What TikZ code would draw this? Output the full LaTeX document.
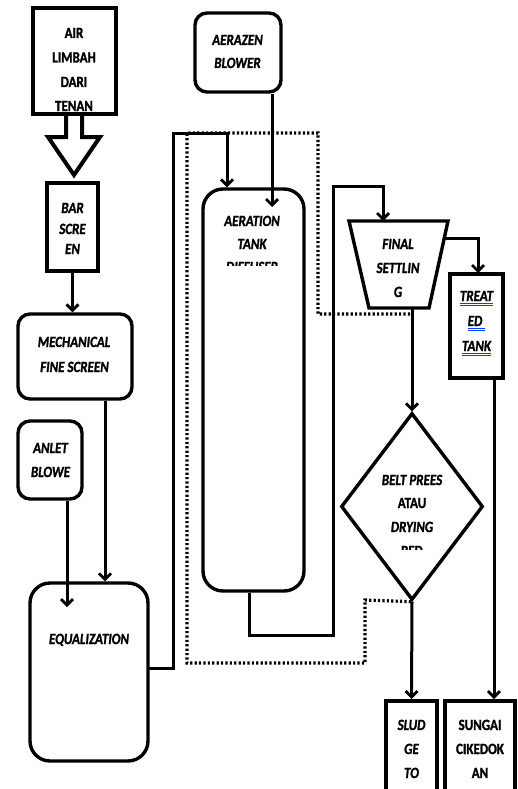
\documentclass[tikz,border=0pt]{standalone}
\usepackage{fontspec}
\setmainfont[BoldFeatures={FakeBold=1.6},BoldItalicFeatures={FakeBold=1.6}]{Carlito}
\usetikzlibrary{arrows.meta,shapes.geometric}
\newcommand\sx[1]{\scalebox{1}[1.2]{#1}}
\begin{document}
\begin{tikzpicture}[x=1pt,y=-1pt,
  sqbox/.style={draw, line width=4pt, inner sep=0pt},
  rbox/.style={draw, line width=3.4pt, rounded corners=12pt, inner sep=0pt},
  conn/.style={line width=3pt, -{Straight Barb[length=6pt,width=12pt,line width=2.8pt]}},
  dots/.style={line width=3.2pt, dash pattern=on 2.2pt off 2.2pt},
  lbl/.style={font=\fontsize{13}{15}\selectfont\bfseries, inner sep=0pt, anchor=base},
  ilbl/.style={font=\fontsize{13}{15}\selectfont\bfseries\itshape, inner sep=0pt, anchor=base},
  ul/.style={blue!75!cyan, line width=0.9pt}]
\useasboundingbox[fill=white] (0,0) rectangle (517,789);

% boxes
\node[sqbox, minimum width=83pt, minimum height=106pt] (air) at (74.5,61) {};
\node[sqbox, minimum width=51pt, minimum height=88pt] (bar) at (72.5,227) {};
\node[rbox, minimum width=114pt, minimum height=85pt] (mech) at (75,356.5) {};
\node[rbox, minimum width=64pt, minimum height=78pt] (anlet) at (50,460) {};
\node[rbox, rounded corners=20pt, minimum width=118pt, minimum height=178pt] (eq) at (89,672) {};
\node[rbox, minimum width=86pt, minimum height=79pt] (aerazen) at (238,52.5) {};
\node[rbox, rounded corners=20pt, minimum width=101pt, minimum height=402pt] (aer) at (253.5,390) {};
\node[sqbox, minimum width=53pt, minimum height=104pt] (tr) at (476.5,326) {};
\node[draw, diamond, line width=3.4pt, minimum width=142pt, minimum height=187pt, inner sep=0pt] (dia) at (412,506.5) {};
\node[sqbox, minimum width=51pt, minimum height=100pt] (sl) at (411.5,751) {};
\node[sqbox, minimum width=70pt, minimum height=100pt] (su) at (480,751) {};

% final settling trapezoid
\coordinate (fsTL) at (349,221);
\coordinate (fsTR) at (448,221);
\coordinate (fsBR) at (429,308);
\coordinate (fsBL) at (369,308);
\draw[line width=3.4pt, line join=miter] (fsTL) -- (fsTR) -- (fsBR) -- (fsBL) -- cycle;

% block arrow
\draw[line width=4pt, line join=miter] (66,114) -- (66,137) -- (48,137) -- (74,175) -- (100,137) -- (82,137) -- (82,114);

% named points
\coordinate (eqout) at (149,668);
\coordinate (c1) at (173,133);
\coordinate (anin) at (67,607);
\coordinate (azin) at (272,207);
\coordinate (fsr) at (445,238);
\coordinate (fsin) at (383,221);
\coordinate (fsout) at (412,308);

% connectors
\draw[conn] (bar.south) -- (bar.south |- mech.north);
\draw[conn] ([xshift=30pt]mech.south) -- ([xshift=16pt]eq.north);
\draw[conn] ([xshift=17pt]anlet.south) -- (anin);
\draw[conn] (eqout) -| (c1) -| ([xshift=-26.5pt]aer.north);
\draw[conn] ([xshift=34pt]aerazen.south) -- (azin);
\draw[conn] ([xshift=-4.5pt]aer.south) -- (249,635) -- (333,635) -- (333,186) -- (383,186) -- (fsin);
\draw[conn] (fsr) -- (478,238) -- (478,273);
\draw[conn] ([xshift=17.5pt]tr.south) -- ([xshift=14pt]su.north);
\draw[conn] (fsout) -- (dia.north);
\draw[conn] (dia.south) -- (sl.north);

% dotted outline
\draw[dots] (410,314) -- (318,314) -- (318,133) -- (187,133) -- (187,663) -- (365,663) -- (365,600) -- (dia.south);

% texts
\node[lbl] (t1) at (74,38) {\sx{AIR}};
\node[lbl] (t2) at (74,62.5) {\sx{LIMBAH}};
\node[lbl] (t3) at (74,87) {\sx{DARI}};
\node[lbl] (t4) at (74,111) {\sx{TENAN}};

\node[ilbl] (t5) at (72.5,213) {\sx{BAR}};
\node[ilbl] (t6) at (72.5,234) {\sx{SCRE}};
\node[ilbl] (t7) at (72.5,254) {\sx{EN}};

\node[ilbl] (t8) at (74,347) {\sx{MECHANICAL}};
\node[ilbl] (t9) at (74.5,372) {\sx{FINE SCREEN}};

\node[ilbl] (t10) at (50.5,453) {\sx{ANLET}};
\node[ilbl] (t11) at (50.5,477) {\sx{BLOWE}};

\node[ilbl] (t12) at (89,644) {\sx{EQUALIZATION}};

\node[ilbl] (t13) at (237.5,45) {\sx{AERAZEN}};
\node[ilbl] (t14) at (237.5,68) {\sx{BLOWER}};

\node[ilbl] (t15) at (252,226) {\sx{AERATION}};
\node[ilbl] (t16) at (252,249) {\sx{TANK}};
\begin{scope}
\clip (205,200) rectangle (300,265);
\node[ilbl] (t17) at (252,272) {\sx{DIFFUSER}};
\end{scope}

\node[ilbl] (t18) at (398,249) {\sx{FINAL}};
\node[ilbl] (t19) at (398,273) {\sx{SETTLIN}};
\node[ilbl] (t20) at (398,297) {\sx{G}};

\node[ilbl] (t21) at (476.5,301) {\sx{TREAT}};
\node[ilbl] (t22) at (476.5,326) {\sx{ED\ }};
\node[ilbl] (t23) at (476.5,351) {\sx{TANK}};
\foreach \n in {t21,t22,t23}{
  \draw[ul] ([yshift=-2pt]\n.base west) -- ([yshift=-2pt]\n.base east);
  \draw[ul] ([yshift=-4.5pt]\n.base west) -- ([yshift=-4.5pt]\n.base east);
}

\node[ilbl] (t24) at (412,485) {\sx{BELT PREES}};
\node[lbl] (t25) at (412,508) {\sx{ATAU}};
\node[ilbl] (t26) at (412,532) {\sx{DRYING}};
\begin{scope}
\clip (370,540) rectangle (455,549);
\node[lbl] (t27) at (412,556) {\sx{BED}};
\end{scope}

\node[ilbl] (t28) at (411.5,730) {\sx{SLUD}};
\node[ilbl] (t29) at (411.5,754) {\sx{GE}};
\node[ilbl] (t30) at (411.5,778) {\sx{TO}};

\node[lbl] (t31) at (480,730) {\sx{SUNGAI}};
\node[lbl] (t32) at (480,754) {\sx{CIKEDOK}};
\node[lbl] (t33) at (480,778) {\sx{AN}};
\end{tikzpicture}
\end{document}
